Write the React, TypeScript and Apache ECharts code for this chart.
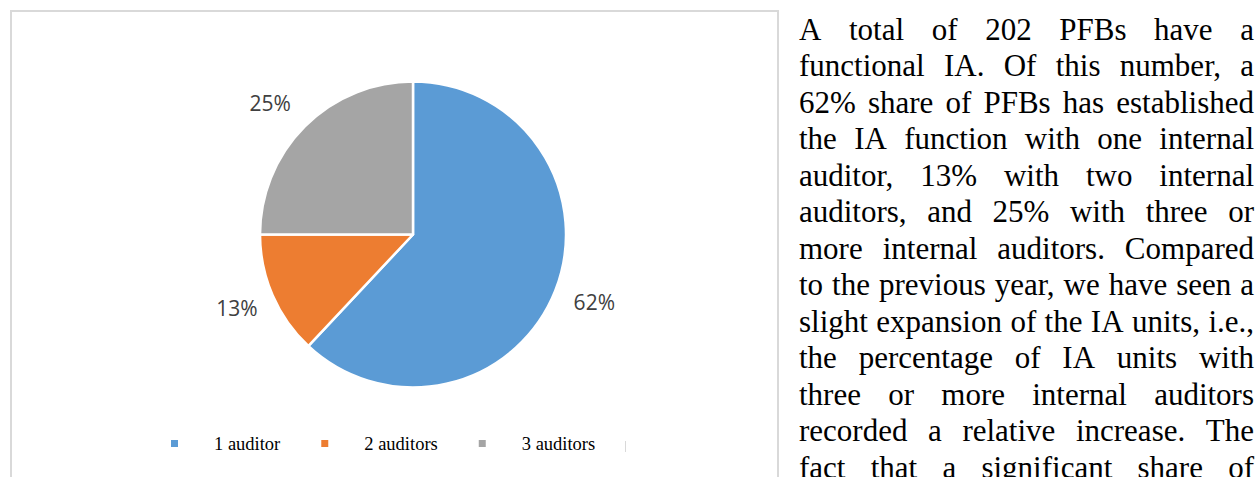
import React, { useEffect, useRef } from "react";
import * as echarts from "echarts";

const categories = ["1 auditor", "2 auditors", "3 auditors"];
const shares = [62, 13, 25];
const sliceColors = ["#5B9BD5", "#ED7D31", "#A5A5A5"];

const paragraphLines = [
  "A total of 202 PFBs have a",
  "functional IA. Of this number, a",
  "62% share of PFBs has established",
  "the IA function with one internal",
  "auditor, 13% with two internal",
  "auditors, and 25% with three or",
  "more internal auditors. Compared",
  "to the previous year, we have seen a",
  "slight expansion of the IA units, i.e.,",
  "the percentage of IA units with",
  "three or more internal auditors",
  "recorded a relative increase. The",
  "fact that a significant share of",
];

export default function App() {
  const ref = useRef<HTMLDivElement>(null);

  useEffect(() => {
    const el = ref.current;
    if (!el) return;
    const chart = echarts.init(el, null, { renderer: "svg" });

    // justified paragraph, word by word
    const fs = 31;
    const font = `${fs}px "Liberation Serif", "Times New Roman", serif`;
    const canvas = document.createElement("canvas");
    const ctx = canvas.getContext("2d") as CanvasRenderingContext2D;
    ctx.font = font;
    const left = 799;
    const right = 1254;
    const baseline0 = 40;
    const lineStep = 36.5;
    const textEls: any[] = [];
    paragraphLines.forEach((line, i) => {
      const words = line.split(" ");
      const widths = words.map((w) => ctx.measureText(w).width);
      const total = widths.reduce((a, b) => a + b, 0);
      const gap = words.length > 1 ? (right - left - total) / (words.length - 1) : 0;
      let x = left;
      const y = baseline0 + lineStep * i - 0.34 * fs;
      words.forEach((w, j) => {
        textEls.push({
          type: "text",
          x,
          y,
          silent: true,
          style: {
            text: w,
            font,
            fill: "#000000",
            align: "left",
            verticalAlign: "middle",
          },
        });
        x += widths[j] + gap;
      });
    });

    const pieData = categories.map((name, i) => ({
      name,
      value: shares[i],
      itemStyle: { color: sliceColors[i] },
    }));

    const labelNudge = [
      [0, -4],
      [3, -4],
      [-5, 6],
    ];

    chart.setOption({
      animation: false,
      backgroundColor: "#ffffff",
      legend: {
        data: categories,
        left: 164,
        top: 429,
        icon: "rect",
        itemWidth: 9,
        itemHeight: 9,
        itemGap: 39,
        selectedMode: false,
        textStyle: {
          fontFamily: '"Liberation Serif", "Times New Roman", serif',
          fontSize: 18.5,
          color: "#000000",
          padding: [0, 0, 0, 30],
        },
      },
      series: [
        {
          type: "pie",
          center: [413, 234.5],
          radius: [0, 153],
          startAngle: 90,
          clockwise: true,
          silent: true,
          itemStyle: { borderColor: "#ffffff", borderWidth: 2.5 },
          label: { show: false },
          labelLine: { show: false },
          data: pieData,
        },
        {
          type: "pie",
          center: [413, 234.5],
          radius: [184, 200],
          startAngle: 90,
          clockwise: true,
          silent: true,
          itemStyle: { color: "rgba(0,0,0,0)", borderWidth: 0 },
          label: {
            show: true,
            position: "inside",
            formatter: "{c}%",
            fontFamily: '"Open Sans", sans-serif',
            fontSize: 21,
            color: "#404040",
          },
          labelLine: { show: false },
          data: categories.map((name, i) => ({
            name,
            value: shares[i],
            label: { offset: labelNudge[i] },
          })),
        },
      ],
      graphic: [
        {
          type: "rect",
          silent: true,
          shape: { x: 11, y: 11, width: 767, height: 600 },
          style: { fill: "none", stroke: "#d9d9d9", lineWidth: 2 },
        },
        {
          type: "line",
          silent: true,
          shape: { x1: 625.5, y1: 441, x2: 625.5, y2: 452 },
          style: { stroke: "#d9d9d9", lineWidth: 1 },
        },
        ...textEls,
      ],
    });

    return () => {
      chart.dispose();
    };
  }, []);

  return (
    <div
      ref={ref}
      style={{
        position: "fixed",
        left: 0,
        top: 0,
        width: 1260,
        height: 477,
        background: "#ffffff",
      }}
    />
  );
}
